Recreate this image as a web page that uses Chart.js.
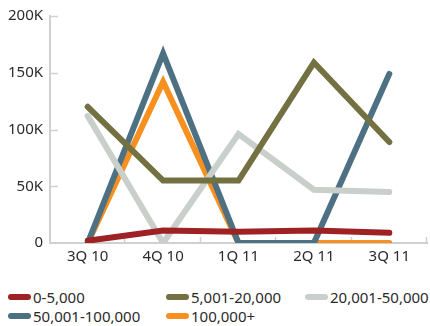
<!DOCTYPE html>
<html>
<head>
<meta charset="utf-8">
<script src="https://cdn.jsdelivr.net/npm/chart.js@4"></script>
<style>
  body { margin: 0; background: #fff; font-family: "Noto Sans", sans-serif; }
  #wrap { position: relative; width: 430px; height: 272px; }
  #legend { position: relative; width: 430px; height: 54px; font-size: 15px; color: #2b2b2b; }
  .item { position: absolute; display: flex; align-items: center; white-space: nowrap; height: 20px; line-height: 20px; }
  .swatch { width: 23px; height: 6px; border-radius: 3px; margin-right: 2px; }
</style>
</head>
<body>
<div id="wrap"><canvas id="chart" width="430" height="272"></canvas></div>
<div id="legend"></div>
<script>
// quarters along the x axis
var quarters = ["3Q 10", "4Q 10", "1Q 11", "2Q 11", "3Q 11"];

// series values
var band0to5k = [2000, 11000, 10000, 11000, 9000];
var band5kto20k = [120000, 55000, 55000, 159000, 89000];
var band20kto50k = [112000, 0, 96000, 47000, 45000];
var band50kto100k = [0, 167000, 0, 0, 149000];
var band100kPlus = [0, 142000, 0, 0, 0];

var seriesNames = ["0-5,000", "5,001-20,000", "20,001-50,000", "50,001-100,000", "100,000+"];
var seriesValues = [band0to5k, band5kto20k, band20kto50k, band50kto100k, band100kPlus];
var seriesColors = ["#9e2224", "#737041", "#c9cfcb", "#4d7183", "#f7901e"];

var yTicks = [0, 50000, 100000, 150000, 200000];

var axisColor = "#d0d0d0";
var textColor = "#2b2b2b";

// short tick marks pointing into the plot, like the original
var innerTicks = {
    id: "innerTicks",
    beforeDatasetsDraw: function (chart) {
        var ctx = chart.ctx, x = chart.scales.x, y = chart.scales.y, area = chart.chartArea;
        ctx.save();
        ctx.strokeStyle = axisColor;
        ctx.lineWidth = 1.5;
        yTicks.forEach(function (v) {
            if (v === 0) return;
            var py = Math.round(y.getPixelForValue(v)) + 0.5;
            ctx.beginPath();
            ctx.moveTo(area.left, py);
            ctx.lineTo(area.left + 8, py);
            ctx.stroke();
        });
        var step = x.getPixelForValue(1) - x.getPixelForValue(0);
        for (var i = 0; i < quarters.length; i++) {
            var px = Math.round(x.getPixelForValue(i) + step / 2) - 0.5;
            ctx.beginPath();
            ctx.moveTo(px, area.bottom);
            ctx.lineTo(px, area.bottom - 6);
            ctx.stroke();
        }
        ctx.restore();
    }
};

var ctx = document.getElementById("chart");
new Chart(ctx, {
    type: "line",
    data: {
        labels: quarters,
        datasets: seriesNames.map(function (name, i) {
            return {
                label: name,
                data: seriesValues[i],
                borderColor: seriesColors[i],
                backgroundColor: seriesColors[i],
                borderWidth: 6,
                borderCapStyle: "round",
                borderJoinStyle: "miter",
                pointRadius: 0,
                tension: 0,
                fill: false
            };
        })
    },
    options: {
        responsive: false,
        animation: false,
        layout: { padding: { top: 15, right: 3, left: 0, bottom: 0 } },
        plugins: {
            legend: { display: false },
            tooltip: { enabled: false }
        },
        scales: {
            x: {
                offset: true,
                grid: { display: false, drawTicks: false },
                border: { color: axisColor, width: 2 },
                ticks: {
                    color: textColor,
                    padding: 5,
                    maxRotation: 0,
                    font: { family: "Noto Sans", size: 15 }
                },
                afterFit: function (scale) { scale.height = 29; }
            },
            y: {
                min: 0,
                max: 200000,
                grid: { display: false, drawTicks: false },
                border: { color: axisColor, width: 2 },
                afterBuildTicks: function (scale) {
                    scale.ticks = yTicks.map(function (v) { return { value: v }; });
                },
                ticks: {
                    color: textColor,
                    padding: 7,
                    font: { family: "Noto Sans", size: 15 },
                    callback: function (v) { return v === 0 ? "0" : (v / 1000) + "K"; }
                },
                afterFit: function (scale) { scale.width = 50; }
            }
        }
    },
    plugins: [innerTicks]
});

// legend laid out in the same two rows as the original
var legendSpots = [[8, 297], [166, 297], [305, 297], [8, 316], [166, 316]];
var legend = document.getElementById("legend");
seriesNames.forEach(function (name, i) {
    var item = document.createElement("div");
    item.className = "item";
    item.style.left = legendSpots[i][0] + "px";
    item.style.top = (legendSpots[i][1] - 272 - 10) + "px";
    item.innerHTML = '<span class="swatch" style="background:' + seriesColors[i] + '"></span>' + name;
    legend.appendChild(item);
});
</script>
</body>
</html>
